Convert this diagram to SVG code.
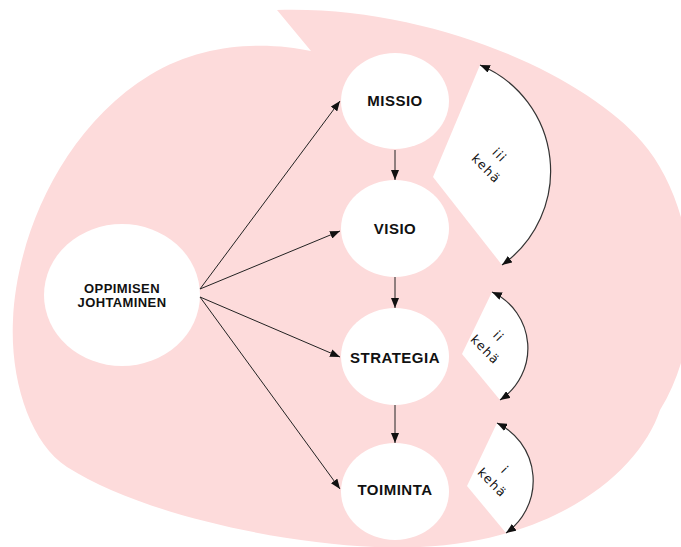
<svg xmlns="http://www.w3.org/2000/svg" width="681" height="547" viewBox="0 0 681 547">
<style>
.node{fill:#ffffff;}
.lbl{font-family:"Liberation Sans",Arial,sans-serif;font-weight:bold;fill:#111;text-anchor:middle;}
.big{font-size:15px;letter-spacing:0.5px;}
.small{font-size:13px;letter-spacing:0.4px;}
.hand{font-family:"DejaVu Sans",sans-serif;font-size:12.5px;letter-spacing:1.3px;fill:#111;text-anchor:middle;}
.conn{stroke:#222;stroke-width:1;fill:none;marker-end:url(#ah);}
.arc{stroke:#333;stroke-width:1.2;fill:none;marker-start:url(#ah);marker-end:url(#ah);}
</style>
<defs>
<marker id="ah" viewBox="0 0 10 8" refX="10" refY="4" markerWidth="10" markerHeight="8" markerUnits="userSpaceOnUse" orient="auto-start-reverse">
<path d="M0,0 L10,4 L0,8 Z" fill="#111"/>
</marker>
</defs>
<rect width="681" height="547" fill="#ffffff"/>
<path id="bubble" fill="#fddbdb" d="M277,10 C430,5 585,75 642,142 C697,205 710,330 660,410 C640,470 560,540 420,547 C320,552 150,520 67,467 C30,443 10,380 13,320 C16,240 60,130 150,75 C205,41 270,42 311,51 Z"/>
<g id="node-oppimisen">
<ellipse class="node" cx="122" cy="295" rx="78" ry="71"/>
<text class="lbl small" x="122" y="293">OPPIMISEN</text>
<text class="lbl small" x="122" y="307">JOHTAMINEN</text>
</g>
<g id="node-missio">
<ellipse class="node" cx="395" cy="101" rx="54" ry="48"/>
<text class="lbl big" x="395" y="106">MISSIO</text>
</g>
<g id="node-visio">
<ellipse class="node" cx="395" cy="228.5" rx="54" ry="48.5"/>
<text class="lbl big" x="395" y="234">VISIO</text>
</g>
<g id="node-strategia">
<ellipse class="node" cx="395" cy="356.5" rx="54" ry="48.5"/>
<text class="lbl big" x="395" y="363">STRATEGIA</text>
</g>
<g id="node-toiminta">
<ellipse class="node" cx="395" cy="491.5" rx="54" ry="48.5"/>
<text class="lbl big" x="395" y="495">TOIMINTA</text>
</g>
<g id="kehä-iii">
<path class="node" d="M433,177 L480,65 A115,115 0 0 1 502,265 Z"/>
<g transform="translate(486,169) rotate(45)">
<text class="hand" x="0" y="-15">iii</text>
<text class="hand" x="0" y="4">kehä</text>
</g>
</g>
<g id="kehä-ii">
<path class="node" d="M462,354 L492,292 A62,62 0 0 1 500,400 Z"/>
<g transform="translate(485,350) rotate(45)">
<text class="hand" x="0" y="-15">ii</text>
<text class="hand" x="0" y="4">kehä</text>
</g>
</g>
<g id="kehä-i">
<path class="node" d="M467,486 L497,423 A64,64 0 0 1 506,533 Z"/>
<g transform="translate(492,483) rotate(45)">
<text class="hand" x="0" y="-14">i</text>
<text class="hand" x="0" y="4">kehä</text>
</g>
</g>
<g id="connectors">
<line class="conn" x1="200" y1="289" x2="340" y2="101"/>
<line class="conn" x1="200" y1="289" x2="340" y2="231"/>
<line class="conn" x1="200" y1="297" x2="340" y2="357"/>
<line class="conn" x1="200" y1="297" x2="340" y2="489"/>
<line class="conn" x1="395" y1="150" x2="395" y2="180"/>
<line class="conn" x1="395" y1="277" x2="395" y2="308"/>
<line class="conn" x1="395" y1="405" x2="395" y2="443"/>
<path class="arc" d="M480,65 A115,115 0 0 1 502,265"/>
<path class="arc" d="M492,292 A62,62 0 0 1 500,400"/>
<path class="arc" d="M497,423 A64,64 0 0 1 506,533"/>
</g>
</svg>
